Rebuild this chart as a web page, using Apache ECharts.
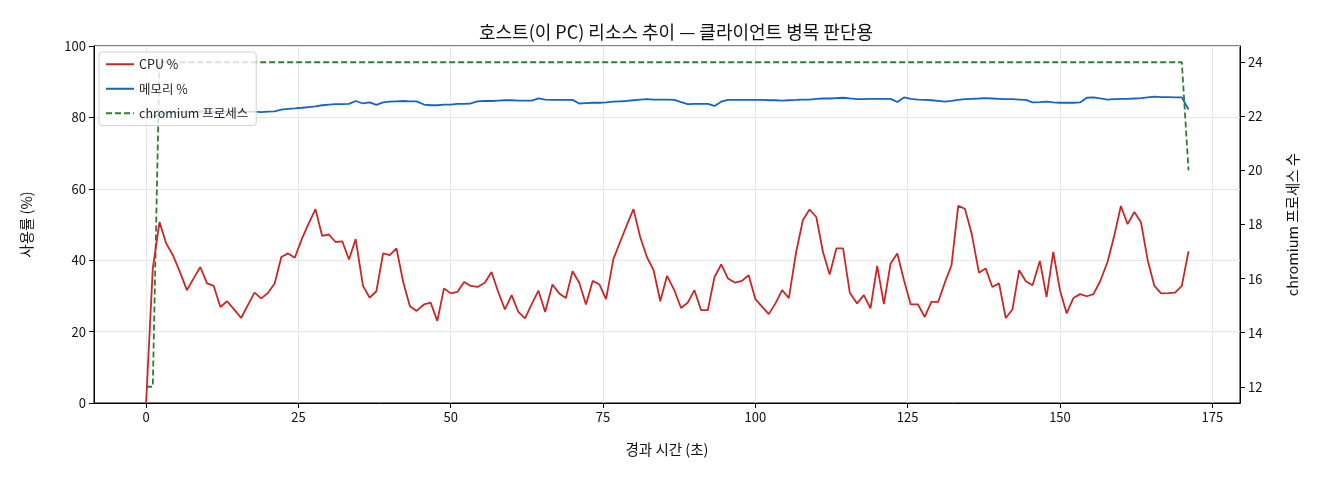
<!DOCTYPE html>
<html>
<head>
<meta charset="utf-8">
<title>호스트 리소스 추이</title>
<script src="https://cdn.jsdelivr.net/npm/echarts@6/dist/echarts.min.js"></script>
<style>
    html, body { margin: 0; padding: 0; background: #fff; }
    #chart { width: 1320px; height: 480px; }
</style>
</head>
<body>
<div id="chart"></div>
<script>
// sample times (s)
const times = [
    0, 1.1, 2.2, 3.3, 4.4, 5.6, 6.7, 7.8, 8.9, 10.0, 11.1, 12.2, 13.3, 14.4, 15.6, 16.7, 17.8, 18.9, 20.0, 21.1,
    22.2, 23.3, 24.4, 25.6, 26.7, 27.8, 28.9, 30.0, 31.1, 32.2, 33.3, 34.4, 35.6, 36.7, 37.8, 38.9, 40.0, 41.1, 42.2, 43.3,
    44.4, 45.6, 46.7, 47.8, 48.9, 50.0, 51.1, 52.2, 53.3, 54.4, 55.6, 56.7, 57.8, 58.9, 60.0, 61.1, 62.2, 63.3, 64.4, 65.5,
    66.7, 67.8, 68.9, 70.0, 71.1, 72.2, 73.3, 74.4, 75.5, 76.7, 77.8, 78.9, 80.0, 81.1, 82.2, 83.3, 84.4, 85.5, 86.7, 87.8,
    88.9, 90.0, 91.1, 92.2, 93.3, 94.4, 95.5, 96.7, 97.8, 98.9, 100.0, 101.1, 102.2, 103.3, 104.4, 105.5, 106.7, 107.8, 108.9, 110.0,
    111.1, 112.2, 113.3, 114.4, 115.5, 116.7, 117.8, 118.9, 120.0, 121.1, 122.2, 123.3, 124.4, 125.5, 126.7, 127.8, 128.9, 130.0, 131.1, 132.2,
    133.3, 134.4, 135.5, 136.7, 137.8, 138.9, 140.0, 141.1, 142.2, 143.3, 144.4, 145.5, 146.7, 147.8, 148.9, 150.0, 151.1, 152.2, 153.3, 154.4,
    155.5, 156.6, 157.8, 158.9, 160.0, 161.1, 162.2, 163.3, 164.4, 165.5, 166.6, 167.8, 168.9, 170.0, 171.1
];

// CPU %
const cpu = [
    0, 37.7, 50.7, 44.7, 41.4, 36.5, 31.6, 34.9, 38.1, 33.5, 32.8, 26.9, 28.5, 26.3, 23.8, 27.4, 30.9, 29.3, 30.8, 33.5,
    40.9, 41.9, 40.7, 46.1, 50.3, 54.3, 46.8, 47.2, 45.1, 45.3, 40.2, 45.9, 32.8, 29.5, 31.3, 41.9, 41.4, 43.3, 33.9, 27.1,
    25.8, 27.6, 28.1, 23.0, 32.1, 30.7, 31.1, 33.9, 32.8, 32.5, 33.7, 36.7, 31.1, 26.2, 30.2, 25.5, 23.7, 27.7, 31.5, 25.5,
    33.2, 30.7, 29.4, 36.9, 33.7, 27.6, 34.2, 33.2, 29.1, 40.3, 45.1, 49.8, 54.3, 46.5, 40.9, 37.2, 28.5, 35.6, 31.6, 26.6,
    28.1, 31.6, 26.0, 26.0, 35.3, 38.8, 34.9, 33.7, 34.2, 35.8, 29.1, 27.0, 24.9, 27.9, 31.6, 29.4, 42.3, 51.2, 54.2, 52.1,
    42.3, 36.0, 43.3, 43.3, 30.9, 27.9, 30.2, 26.5, 38.4, 27.7, 39.1, 41.9, 34.4, 27.6, 27.6, 24.1, 28.3, 28.3, 33.7, 38.6,
    55.2, 54.4, 47.5, 36.5, 37.7, 32.5, 33.5, 23.8, 26.2, 37.2, 34.1, 33.0, 39.8, 29.7, 42.3, 31.6, 25.1, 29.4, 30.5, 29.9,
    30.5, 34.1, 39.5, 46.8, 55.2, 50.1, 53.5, 50.6, 40.0, 32.8, 30.7, 30.8, 30.9, 32.8, 42.5
];

// memory %
const mem = [
    79.7, 80.3, 80.8, 81.2, 81.4, 81.5, 81.6, 81.5, 81.6, 81.6, 81.5, 81.6, 81.7, 81.6, 81.5, 81.6, 81.6, 81.5, 81.6, 81.7,
    82.2, 82.4, 82.5, 82.7, 82.9, 83.1, 83.4, 83.6, 83.7, 83.7, 83.8, 84.6, 83.9, 84.2, 83.5, 84.2, 84.4, 84.5, 84.6, 84.5,
    84.5, 83.6, 83.4, 83.4, 83.6, 83.6, 83.8, 83.8, 83.9, 84.5, 84.6, 84.6, 84.7, 84.8, 84.8, 84.7, 84.7, 84.7, 85.3, 85.0,
    84.9, 84.9, 84.9, 84.9, 83.9, 84.0, 84.1, 84.1, 84.2, 84.4, 84.5, 84.6, 84.8, 85.0, 85.1, 85.0, 85.0, 85.0, 84.9, 84.3,
    83.7, 83.8, 83.8, 83.8, 83.2, 84.4, 84.9, 84.9, 84.9, 84.9, 84.9, 84.9, 84.8, 84.8, 84.7, 84.8, 84.9, 85.0, 85.0, 85.2,
    85.3, 85.3, 85.4, 85.5, 85.3, 85.1, 85.1, 85.2, 85.2, 85.2, 85.2, 84.3, 85.6, 85.2, 85.0, 84.9, 84.8, 84.6, 84.4, 84.6,
    84.9, 85.1, 85.2, 85.3, 85.4, 85.3, 85.2, 85.1, 85.1, 85.0, 84.9, 84.2, 84.3, 84.4, 84.2, 84.1, 84.1, 84.1, 84.2, 85.5,
    85.6, 85.3, 85.0, 85.1, 85.2, 85.2, 85.3, 85.4, 85.6, 85.8, 85.7, 85.7, 85.6, 85.6, 82.2
];

// chromium process count
const procs = [
    12, 12, 24, 24, 24, 24, 24, 24, 24, 24, 24, 24, 24, 24, 24, 24, 24, 24, 24, 24,
    24, 24, 24, 24, 24, 24, 24, 24, 24, 24, 24, 24, 24, 24, 24, 24, 24, 24, 24, 24,
    24, 24, 24, 24, 24, 24, 24, 24, 24, 24, 24, 24, 24, 24, 24, 24, 24, 24, 24, 24,
    24, 24, 24, 24, 24, 24, 24, 24, 24, 24, 24, 24, 24, 24, 24, 24, 24, 24, 24, 24,
    24, 24, 24, 24, 24, 24, 24, 24, 24, 24, 24, 24, 24, 24, 24, 24, 24, 24, 24, 24,
    24, 24, 24, 24, 24, 24, 24, 24, 24, 24, 24, 24, 24, 24, 24, 24, 24, 24, 24, 24,
    24, 24, 24, 24, 24, 24, 24, 24, 24, 24, 24, 24, 24, 24, 24, 24, 24, 24, 24, 24,
    24, 24, 24, 24, 24, 24, 24, 24, 24, 24, 24, 24, 24, 24, 20
];

const xTicks = [0, 25, 50, 75, 100, 125, 150, 175];
const rightTicks = [12, 14, 16, 18, 20, 22, 24];

(function() {
    'use strict';

    const font = '"Noto Sans CJK KR", "Noto Sans", sans-serif';
    const pairs = arr => times.map((t, i) => [t, arr[i]]);

    const chart = echarts.init(document.getElementById('chart'), null, { renderer: 'canvas' });

    chart.setOption({
        animation: false,
        textStyle: { fontFamily: font },
        title: {
            text: '호스트(이 PC) 리소스 추이 — 클라이언트 병목 판단용',
            left: 671,
            top: 18,
            textAlign: 'center',
            textStyle: { fontFamily: font, fontSize: 18, fontWeight: 'normal', color: '#111' }
        },
        grid: {
            left: 94, right: 80, top: 46, bottom: 77,
            show: true, borderColor: '#000', borderWidth: 1, backgroundColor: 'transparent'
        },
        legend: {
            orient: 'vertical',
            left: 99, top: 52,
            itemWidth: 28, itemHeight: 10, itemGap: 12,
            padding: [6, 8, 6, 6],
            backgroundColor: 'rgba(255,255,255,0.8)',
            borderColor: '#d0d0d0', borderWidth: 1, borderRadius: 3,
            itemStyle: { opacity: 0 },
            textStyle: { fontFamily: font, fontSize: 12.5, color: '#222' },
            data: ['CPU %', '메모리 %', 'chromium 프로세스']
        },
        xAxis: {
            type: 'value',
            min: -8.55, max: 179.55,
            name: '경과 시간 (초)',
            nameLocation: 'middle',
            nameGap: 39,
            nameTextStyle: { fontFamily: font, fontSize: 14.5, color: '#111' },
            axisLine: { show: true, onZero: false, lineStyle: { color: '#000' } },
            axisTick: { show: true, length: 5, customValues: xTicks, lineStyle: { color: '#000' } },
            axisLabel: { customValues: xTicks, fontSize: 13, color: '#111', margin: 8 },
            splitLine: { show: true, lineStyle: { color: '#e6e6e6' } }
        },
        yAxis: [{
            type: 'value',
            min: 0, max: 100, interval: 20,
            name: '사용률 (%)',
            nameLocation: 'middle',
            nameRotate: 90,
            nameGap: 60,
            nameTextStyle: { fontFamily: font, fontSize: 14.5, color: '#111' },
            axisLine: { show: true, onZero: false, lineStyle: { color: '#000' } },
            axisTick: { show: true, length: 5, lineStyle: { color: '#000' } },
            axisLabel: { fontSize: 13, color: '#111', margin: 8 },
            splitLine: { show: true, lineStyle: { color: '#e6e6e6' } }
        }, {
            type: 'value',
            position: 'right',
            min: 11.4, max: 24.6,
            name: 'chromium 프로세스 수',
            nameLocation: 'middle',
            nameRotate: 90,
            nameGap: 45,
            nameTextStyle: { fontFamily: font, fontSize: 14.5, color: '#111' },
            axisLine: { show: true, onZero: false, lineStyle: { color: '#000' } },
            axisTick: { show: true, length: 5, customValues: rightTicks, lineStyle: { color: '#000' } },
            axisLabel: { customValues: rightTicks, fontSize: 13, color: '#111', margin: 8 },
            splitLine: { show: false }
        }],
        series: [{
            name: 'CPU %',
            type: 'line',
            yAxisIndex: 0,
            data: pairs(cpu),
            symbol: 'none',
            color: '#c62828',
            lineStyle: { width: 1.8, color: '#c62828' },
            z: 3
        }, {
            name: '메모리 %',
            type: 'line',
            yAxisIndex: 0,
            data: pairs(mem),
            symbol: 'none',
            color: '#1565c0',
            lineStyle: { width: 1.8, color: '#1565c0' },
            z: 3
        }, {
            name: 'chromium 프로세스',
            type: 'line',
            yAxisIndex: 1,
            data: pairs(procs),
            symbol: 'none',
            color: '#2e7d32',
            lineStyle: { width: 1.8, color: '#2e7d32', type: [6, 3] },
            z: 2
        }]
    });
})();
</script>
</body>
</html>
